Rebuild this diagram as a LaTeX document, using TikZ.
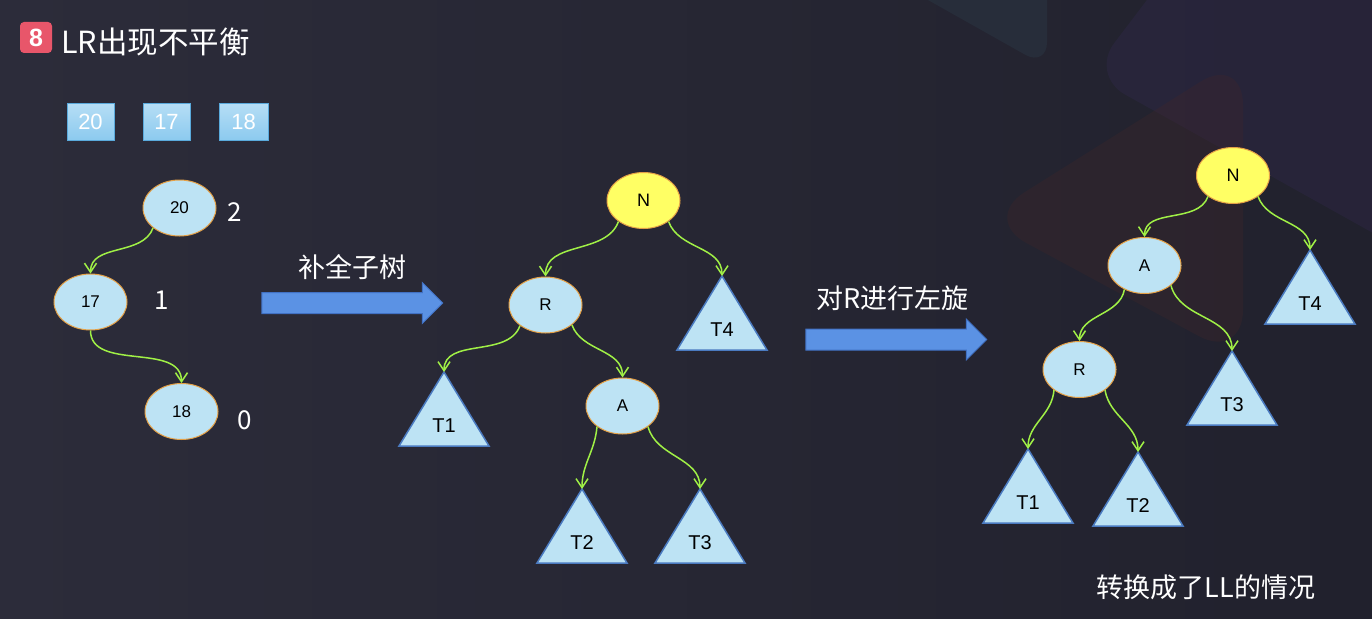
\documentclass[tikz,border=0pt]{standalone}
\usepackage{fontspec}
\setmainfont{Noto Sans CJK SC}
\newfontfamily\arialfont{Liberation Sans}
\usetikzlibrary{arrows.meta, shapes.geometric, shapes.arrows, calc, positioning}

\definecolor{bgleft}{RGB}{44,44,58}
\definecolor{bgright}{RGB}{33,33,45}
\definecolor{decoteal}{RGB}{47,70,84}
\definecolor{decopurple}{RGB}{53,42,84}
\definecolor{decobrown}{RGB}{70,39,40}
\definecolor{nodefill}{RGB}{189,227,244}
\definecolor{nodeline}{RGB}{228,160,70}
\definecolor{rootfill}{RGB}{255,255,100}
\definecolor{treeline}{RGB}{74,122,192}
\definecolor{edgegreen}{RGB}{160,240,70}
\definecolor{arrowfill}{RGB}{91,146,228}
\definecolor{arrowline}{RGB}{65,113,196}
\definecolor{badgered}{RGB}{232,86,106}
\definecolor{boxtop}{RGB}{182,222,245}
\definecolor{boxbot}{RGB}{140,202,239}
\definecolor{boxline}{RGB}{90,170,220}

\tikzset{
    avl/.style={ellipse, draw=nodeline, line width=1pt, fill=nodefill,
        minimum width=73pt, minimum height=56pt, inner sep=0pt,
        font=\arialfont\fontsize{17}{19}\selectfont},
    avlroot/.style={avl, fill=rootfill, font=\arialfont\fontsize{18}{20}\selectfont},
    link/.style={draw=edgegreen, line width=1.5pt, -{Straight Barb[length=9pt,width=12pt]}},
    numbox/.style={draw=boxline, line width=1pt, top color=boxtop, bottom color=boxbot,
        minimum width=47pt, minimum height=37pt, inner sep=0pt, text=white,
        font=\arialfont\fontsize{22}{24}\selectfont},
    balance/.style={text=white, inner sep=0pt, font=\fontsize{26}{30}\selectfont},
    caption/.style={text=white, inner sep=0pt, font=\fontsize{27}{32}\selectfont},
    bigarrow/.style={single arrow, draw=arrowline, fill=arrowfill, line width=1pt,
        minimum height=181pt, inner xsep=0pt, inner ysep=10pt,
        single arrow head extend=10pt, single arrow tip angle=90, single arrow head indent=0pt},
    subtree/.pic={
        \coordinate (-top) at (0,0);
        \draw[draw=treeline, line width=1.5pt, fill=nodefill, line join=miter]
            (0,0) -- (45,-74) -- (-45,-74) -- cycle;
        \node[inner sep=0pt, font=\arialfont\fontsize{20}{22}\selectfont] (-lbl) at (0,-54) {#1};
    }
}

\begin{document}
\begin{tikzpicture}[x=1pt, y=1pt]

        % BACKGROUND
        \fill[left color=bgleft, right color=bgright] (0,0) rectangle (1372,-618);
        \useasboundingbox (0,0) rectangle (1372,-618);
        \begin{scope}
            \clip (0,0) rectangle (1372,-618);
            \fill[decoteal, opacity=0.28, rounded corners=25pt] (880,27) -- (1047,-67) -- (1047,27) -- cycle;
            \fill[decopurple, opacity=0.3, rounded corners=40pt] (1090,-75) -- (1200,70) -- (1450,70) -- (1450,-276) -- cycle;
            \fill[decobrown, opacity=0.28, rounded corners=50pt] (1243,-55) -- (982,-219) -- (1243,-360) -- cycle;
        \end{scope}

        % TITLE
        \node[fill=badgered, rounded corners=4pt, minimum width=32pt, minimum height=31pt, inner sep=0pt,
            text=white, font=\arialfont\bfseries\fontsize{25}{27}\selectfont] (badge) at (36,-37.5) {8};
        \node[anchor=west, text=white, inner sep=0pt, font=\fontsize{30.5}{36}\selectfont] (title) at (61,-42) {LR出现不平衡};

        % INSERT ORDER
        \node[numbox] (box20) at (90.5,-121.5) {20};
        \node[numbox] (box17) at (166.5,-121.5) {17};
        \node[numbox, minimum width=49pt] (box18) at (243.5,-121.5) {18};

        % UNBALANCED TREE
        \node[avl] (n20) at (179.5,-208) {20};
        \node[avl] (n17) at ($(n20) + (-89, -94)$) {17};
        \node[avl] (n18) at ($(n17) + (91, -109.5)$) {18};
        \node[balance] (bf20) at (235,-212) {2};
        \node[balance] (bf17) at (162,-300) {1};
        \node[balance] (bf18) at (245,-420) {0};
        \draw[link] (n20.217) to[out=-110, in=90] (n17.north);
        \draw[link] (n17.south) to[out=-90, in=90] (n18.north);

        % STEP 1
        \node[bigarrow] (step1) at (347,-303) {};
        \node[caption, above=12.5pt of step1, xshift=5.5pt] (step1txt) {补全子树};

        % COMPLETED TREE
        \node[avlroot] (midN) at (643.5,-200.5) {N};
        \node[avl] (midR) at ($(midN) + (-98, -104.5)$) {R};
        \node[avl] (midA) at ($(midR) + (77, -101)$) {A};
        \pic (midT1) at (444,-372) {subtree=T1};
        \pic (midT4) at (722,-276) {subtree=T4};
        \pic (midT2) at (582,-489) {subtree=T2};
        \pic (midT3) at (700,-489) {subtree=T3};
        \draw[link] (midN.220) to[out=-110, in=90] (midR.north);
        \draw[link] (midN.320) to[out=-70, in=90] (midT4-top);
        \draw[link] (midR.219) to[out=-110, in=90] (midT1-top);
        \draw[link] (midR.323) to[out=-70, in=90] (midA.north);
        \draw[link] (midA.219) to[out=-95, in=90] (midT2-top);
        \draw[link] (midA.321) to[out=-75, in=90] (midT3-top);

        % STEP 2
        \node[bigarrow] (step2) at (891,-339.5) {};
        \node[caption, above=17.5pt of step2, xshift=1.5pt] (step2txt) {对R进行左旋};

        % ROTATED TREE
        \node[avlroot] (rotN) at (1233,-175.5) {N};
        \node[avl] (rotA) at ($(rotN) + (-88.5, -90)$) {A};
        \node[avl] (rotR) at ($(rotA) + (-65, -104)$) {R};
        \pic (rotT4) at (1310,-250) {subtree=T4};
        \pic (rotT3) at (1232,-351) {subtree=T3};
        \pic (rotT1) at (1028,-449) {subtree=T1};
        \pic (rotT2) at (1138,-452) {subtree=T2};
        \draw[link] (rotN.220) to[out=-110, in=90] (rotA.north);
        \draw[link] (rotN.320) to[out=-70, in=90] (rotT4-top);
        \draw[link] (rotA.230) to[out=-100, in=90] (rotR.north);
        \draw[link] (rotA.323) to[out=-75, in=90] (rotT3-top);
        \draw[link] (rotR.219) to[out=-95, in=90] (rotT1-top);
        \draw[link] (rotR.321) to[out=-80, in=90] (rotT2-top);

        % RESULT
        \node[caption] (result) at (1206,-587) {转换成了LL的情况};

    \end{tikzpicture}
\end{document}
